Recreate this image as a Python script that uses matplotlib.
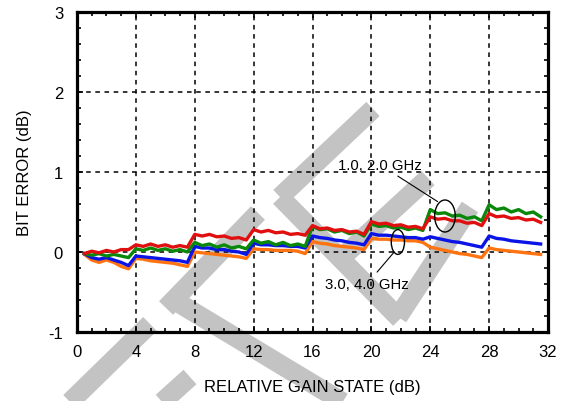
import matplotlib
matplotlib.use('Agg')
import matplotlib.pyplot as plt
import numpy as np
from matplotlib.lines import Line2D
from matplotlib.patches import Ellipse
from matplotlib.ticker import MultipleLocator

plt.rcParams['font.family'] = ['Liberation Sans', 'DejaVu Sans']
plt.rcParams['axes.unicode_minus'] = False

# gain states 0.5 dB .. 31.5 dB
gain = np.arange(0.5, 32.0, 0.5)

red = [-0.02, 0.01, -0.01, 0.02, 0.00, 0.03, 0.03,
       0.09, 0.07, 0.10, 0.07, 0.09, 0.06, 0.08, 0.06,
       0.22, 0.20, 0.22, 0.19, 0.20, 0.17, 0.18, 0.15,
       0.28, 0.25, 0.27, 0.24, 0.25, 0.22, 0.23, 0.21,
       0.33, 0.29, 0.30, 0.27, 0.28, 0.25, 0.26, 0.22,
       0.38, 0.35, 0.36, 0.33, 0.34, 0.31, 0.32, 0.29,
       0.44, 0.41, 0.42, 0.39, 0.39, 0.36, 0.37, 0.33,
       0.48, 0.44, 0.45, 0.42, 0.43, 0.40, 0.41, 0.37]
green = [-0.02, -0.04, -0.02, -0.05, -0.03, -0.05, -0.07,
         0.04, 0.02, 0.05, 0.02, 0.04, 0.01, 0.03, 0.00,
         0.12, 0.08, 0.10, 0.06, 0.09, 0.05, 0.07, 0.04,
         0.15, 0.11, 0.13, 0.09, 0.12, 0.08, 0.10, 0.07,
         0.32, 0.28, 0.29, 0.25, 0.27, 0.23, 0.25, 0.20,
         0.35, 0.32, 0.33, 0.30, 0.31, 0.28, 0.30, 0.27,
         0.53, 0.48, 0.49, 0.45, 0.46, 0.42, 0.44, 0.39,
         0.59, 0.53, 0.55, 0.50, 0.53, 0.48, 0.50, 0.44]
blue = [-0.02, -0.07, -0.09, -0.07, -0.10, -0.13, -0.17,
        -0.05, -0.06, -0.07, -0.08, -0.09, -0.10, -0.11, -0.13,
        0.07, 0.05, 0.05, 0.03, 0.03, 0.01, 0.00, -0.03,
        0.11, 0.09, 0.09, 0.08, 0.08, 0.07, 0.07, 0.05,
        0.20, 0.18, 0.17, 0.15, 0.14, 0.12, 0.11, 0.09,
        0.23, 0.21, 0.21, 0.20, 0.19, 0.18, 0.18, 0.16,
        0.19, 0.17, 0.15, 0.13, 0.12, 0.10, 0.08, 0.06,
        0.20, 0.17, 0.16, 0.14, 0.13, 0.12, 0.11, 0.10]
orange = [-0.03, -0.10, -0.13, -0.10, -0.13, -0.18, -0.21,
          -0.08, -0.09, -0.11, -0.12, -0.13, -0.14, -0.16, -0.18,
          0.00, -0.01, -0.02, -0.03, -0.04, -0.05, -0.06, -0.08,
          0.04, 0.03, 0.03, 0.02, 0.02, 0.02, 0.01, -0.02,
          0.13, 0.11, 0.10, 0.08, 0.07, 0.06, 0.05, 0.03,
          0.17, 0.16, 0.16, 0.15, 0.15, 0.14, 0.14, 0.12,
          0.06, 0.04, 0.02, 0.00, -0.02, -0.03, -0.05, -0.07,
          0.05, 0.03, 0.02, 0.01, 0.00, -0.01, -0.02, -0.03]

series = [(orange, '#ff7410'), (blue, '#0a14e6'), (green, '#0a880a'), (red, '#e01010')]

x_ticks = [0, 4, 8, 12, 16, 20, 24, 28, 32]
y_ticks = [-1, 0, 1, 2, 3]

# watermark bands, image pixel coordinates (x, y from top)
watermark = [((373, 110), (280, 198)), ((280, 198), (400, 320)),
             ((428, 179), (338, 262)), ((470, 208), (398, 318)),
             ((258, 214), (166, 309)), ((172, 300), (346, 405)),
             ((150, 325), (68, 405)), ((190, 378), (160, 405))]

W, H = 564, 402
fig = plt.figure(figsize=(W / 100, H / 100), dpi=100)
ax = fig.add_axes([77 / W, 1 - 333 / H, 471 / W, 320 / H])
ax.patch.set_facecolor('none')

for (x0, y0), (x1, y1) in watermark:
    fig.add_artist(Line2D([x0 / W, x1 / W], [1 - y0 / H, 1 - y1 / H],
                          transform=fig.transFigure, color='#c3c3c3',
                          lw=14, solid_capstyle='butt', zorder=-1))

for vals, col in series:
    ax.plot(gain, vals, color=col, lw=2.4, zorder=3)

ax.set_xlim(0, 32)
ax.set_ylim(-1, 3)
ax.set_xticks(x_ticks)
ax.set_yticks(y_ticks)
ax.xaxis.set_minor_locator(MultipleLocator(1))
ax.yaxis.set_minor_locator(MultipleLocator(0.2))
ax.tick_params(which='both', direction='in', top=True, right=True,
               labelsize=12, width=1.2)
ax.tick_params(which='major', length=4, pad=9)
ax.tick_params(which='minor', length=3)
ax.tick_params(axis='y', which='major', pad=10)
ax.grid(True, which='major', color='black', ls=(0, (3, 3)), lw=1.1)
for s in ax.spines.values():
    s.set_linewidth(2.3)

ax.set_xlabel('RELATIVE GAIN STATE (dB)', fontsize=12, labelpad=14)
ax.set_ylabel('BIT ERROR (dB)', fontsize=12, labelpad=12)

ax.add_patch(Ellipse((25.0, 0.45), 1.4, 0.4, fill=False, ec='black', lw=1, zorder=4))
ax.add_patch(Ellipse((21.8, 0.125), 0.9, 0.31, fill=False, ec='black', lw=1, zorder=4))
ax.annotate('1.0, 2.0 GHz', xy=(24.5, 0.63), xytext=(20.6, 1.09),
            ha='center', va='center', fontsize=10.7,
            arrowprops=dict(arrowstyle='-', lw=0.8, color='black', shrinkA=2, shrinkB=0))
ax.annotate('3.0, 4.0 GHz', xy=(21.55, 0.0), xytext=(19.7, -0.4),
            ha='center', va='center', fontsize=10.7,
            arrowprops=dict(arrowstyle='-', lw=0.8, color='black', shrinkA=2, shrinkB=0))

fig.savefig('out.png', dpi=100)
